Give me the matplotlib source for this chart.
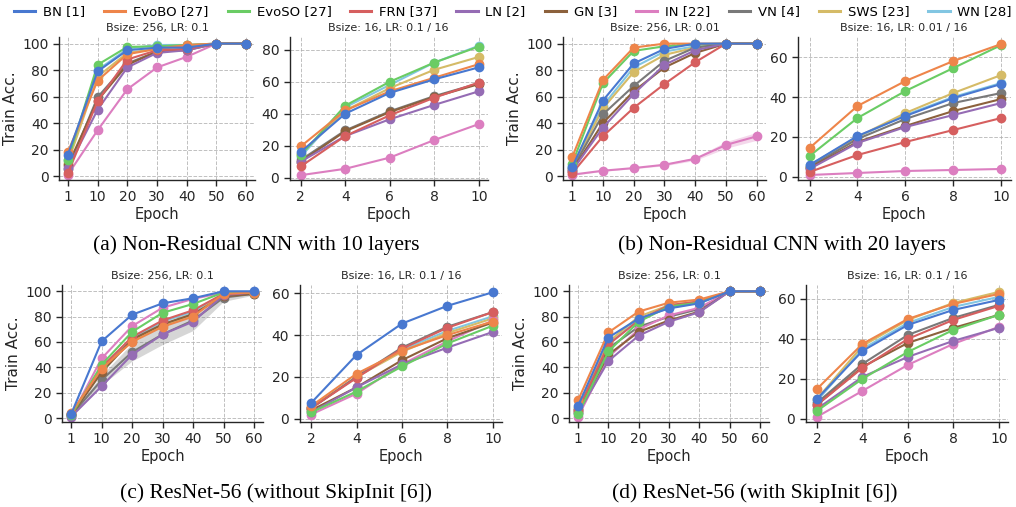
import numpy as np
import matplotlib
matplotlib.use('Agg')
import matplotlib.pyplot as plt


# Data

methods = ['BN [1]', 'EvoBO [27]', 'EvoSO [27]', 'FRN [37]', 'LN [2]',
           'GN [3]', 'IN [22]', 'VN [4]', 'SWS [23]', 'WN [28]']
colors = ['#4878d0', '#ee854a', '#6acc64', '#d65f5f', '#956cb4',
          '#8c613c', '#dc7ec0', '#797979', '#d5bb67', '#82c6e2']

long_epochs = ['1', '10', '20', '30', '40', '50', '60']
short_epochs = [2, 4, 6, 8, 10]

# (a) Non-residual CNN, 10 layers
a_long = [
    [16, 79, 95, 97, 97, 100, 100],
    [18, 72, 92, 96, 99, 100, 100],
    [12, 84, 97.5, 98, 99, 100, 100],
    [2, 56.5, 88, 95, 96, 100, 100],
    [6, 50, 82, 93, 95, 100, 100],
    [8, 57, 84, 94, 95, 100, 100],
    [1, 34.5, 65.5, 82, 90, 100, 100],
    [5, 59.5, 85, 94, 96, 100, 100],
    [10, 75, 93, 96, 98, 100, 100],
    [12, 80, 96, 99, 99, 100, 100],
]
a_short = [
    [16, 40, 53, 61.5, 69],
    [19.5, 42, 54, 62.5, 71],
    [14, 45, 60, 72, 82],
    [7, 26, 39, 50, 59.5],
    [10, 26, 36.5, 45.5, 54],
    [10, 29, 41, 50.5, 58.5],
    [1.5, 5.5, 12.5, 23.5, 33.5],
    [11, 29.5, 41.5, 51, 59],
    [15, 42, 56, 67.5, 75.5],
    [13, 44, 58, 72, 82.5],
]

# (b) Non-residual CNN, 20 layers
b_long = [
    [6.5, 57, 85, 96, 100, 100, 100],
    [14, 72.5, 97, 100, 100, 100, 100],
    [9, 70, 94.5, 98, 99.5, 100, 100],
    [2, 30, 51.5, 69.5, 86, 100, 100],
    [4, 36.5, 62, 84, 95, 100, 100],
    [4, 40, 64, 82, 93, 100, 100],
    [1, 4, 6, 8.5, 13, 23.5, 30],
    [5, 46.5, 68, 87, 97, 100, 100],
    [6, 51, 78.5, 91.5, 97, 100, 100],
    [7, 53, 82, 94, 98, 100, 100],
]
b_short = [
    [6, 20.5, 30.5, 39.5, 46.5],
    [14.5, 35.5, 48, 58, 66.5],
    [10.5, 29.5, 43, 54.5, 66],
    [2.5, 11, 17.5, 23.5, 29.5],
    [4, 17, 25, 31, 37],
    [4.5, 17.5, 25.5, 33, 39],
    [1, 2, 3, 3.5, 4],
    [5, 19, 29, 37, 42],
    [5, 20, 32, 42, 51],
    [6, 20, 31, 40, 47],
]

# (c) ResNet-56 without SkipInit
c_long = [
    [3, 60.5, 81.5, 90.5, 94.5, 100, 100],
    [4, 39, 60, 72, 80, 98, 99],
    [2, 42, 68, 83, 90, 99, 99],
    [3, 40, 64, 77, 85, 98, 99],
    [1, 25, 50, 66, 76, 97, 99],
    [2, 36, 62, 74, 82, 96, 98],
    [1, 47, 72.5, 87, 94, 99, 99],
    [2, 30, 52, 66, 77, 95, 98],
    [3, 38, 61, 73, 81, 98, 99],
    [3, 40, 63, 76, 84, 98, 99],
]
c_short = [
    [7.5, 30.5, 45.5, 54, 60.5],
    [6, 21.5, 32.5, 40, 46.5],
    [3, 13, 25, 36, 44.5],
    [5, 19.5, 33.5, 43.5, 51],
    [3, 15, 26, 34, 41.5],
    [4, 15, 28, 38.5, 46],
    [2, 12, 26, 37, 47],
    [5, 20, 34, 44, 51],
    [5, 20, 32, 41, 48],
    [5, 20, 33, 42, 49],
]

# (d) ResNet-56 with SkipInit
d_long = [
    [9.5, 63.5, 78.5, 86.5, 90.5, 100, 100],
    [14, 67.5, 84, 91, 93.5, 100, 100],
    [3, 52.5, 76, 88, 91, 100, 100],
    [6, 58, 77, 89, 92, 100, 100],
    [4, 45, 65, 76, 83.5, 100, 100],
    [5, 50, 68, 77, 84, 100, 100],
    [1, 48, 70, 81, 87, 100, 100],
    [6, 55, 72, 80, 86, 100, 100],
    [8, 60, 80, 89, 92, 100, 100],
    [7, 58, 78, 87, 91, 100, 100],
]
d_short = [
    [10, 34, 47, 54.5, 59.5],
    [15, 37.5, 50, 57.5, 62.5],
    [4, 20, 33.5, 44.5, 52],
    [7, 25.5, 40, 49.5, 56.5],
    [5, 21, 31, 39, 45.5],
    [7, 26, 38, 45.5, 52],
    [1, 14, 27, 37.5, 46],
    [8, 27.5, 42, 50.5, 57],
    [10, 36.5, 49.5, 58, 63.5],
    [9, 35, 48, 56, 61],
]

# spread (std) shown as shaded band for a few runs
b_long_in_std = [0.5, 0.5, 0.5, 0.8, 1.2, 2.5, 3]
c_long_vn_std = [1, 4, 7, 8, 8, 3, 1]

captions = ['(a) Non-Residual CNN with 10 layers',
            '(b) Non-Residual CNN with 20 layers',
            '(c) ResNet-56 (without SkipInit [6])',
            '(d) ResNet-56 (with SkipInit [6])']


# Functions

def style_axes(ax):
    for side in ['top', 'right']:
        ax.spines[side].set_visible(False)
    for side in ['left', 'bottom']:
        ax.spines[side].set_color('#262626')
        ax.spines[side].set_linewidth(1.0)
    ax.grid(True, linestyle='--', color='#b0b0b0', linewidth=0.7, alpha=0.8)
    ax.set_axisbelow(True)
    ax.tick_params(labelsize=10, colors='#262626', length=4, width=1)
    ax.set_xlabel('Epoch', fontsize=10.5, color='#262626', labelpad=2)


def plot_long(ax, data, title, std=None, ylabel=True):
    xs = np.arange(len(long_epochs))
    for i in reversed(range(len(methods))):
        ax.plot(xs, data[i], 'o-', color=colors[i], linewidth=1.5, markersize=6)
        if std is not None and i in std:
            y = np.array(data[i])
            s = np.array(std[i])
            ax.fill_between(xs, y - s, y + s, color=colors[i], alpha=0.3, linewidth=0)
    ax.set_xticks(xs)
    ax.set_xticklabels(long_epochs)
    ax.set_xlim(-0.3, len(long_epochs) - 0.7)
    ax.set_ylim(-3, 105)
    ax.set_yticks([0, 20, 40, 60, 80, 100])
    ax.set_title(title, fontsize=8, color='#262626', pad=4)
    if ylabel:
        ax.set_ylabel('Train Acc.', fontsize=11, color='#262626', labelpad=3)
    style_axes(ax)


def plot_short(ax, data, title, ytop, yticks):
    for i in reversed(range(len(methods))):
        ax.plot(short_epochs, data[i], 'o-', color=colors[i], linewidth=1.5, markersize=6)
    ax.set_xticks(short_epochs)
    ax.set_xlim(1.5, 10.4)
    ax.set_ylim(-1.5, ytop)
    ax.set_yticks(yticks)
    ax.set_title(title, fontsize=8, color='#262626', pad=4)
    style_axes(ax)


def main():
    fig = plt.figure(figsize=(10.16, 5.07), dpi=100)

    r1, h1 = 0.645, 0.282
    r2, h2 = 0.168, 0.270
    ax_a1 = fig.add_axes([0.058, r1, 0.193, h1])
    ax_a2 = fig.add_axes([0.285, r1, 0.195, h1])
    ax_b1 = fig.add_axes([0.554, r1, 0.200, h1])
    ax_b2 = fig.add_axes([0.785, r1, 0.210, h1])
    ax_c1 = fig.add_axes([0.061, r2, 0.198, h2])
    ax_c2 = fig.add_axes([0.295, r2, 0.199, h2])
    ax_d1 = fig.add_axes([0.560, r2, 0.197, h2])
    ax_d2 = fig.add_axes([0.793, r2, 0.199, h2])

    plot_long(ax_a1, a_long, 'Bsize: 256, LR: 0.1')
    plot_short(ax_a2, a_short, 'Bsize: 16, LR: 0.1 / 16', 88, [0, 20, 40, 60, 80])
    plot_long(ax_b1, b_long, 'Bsize: 256, LR: 0.01', std={6: b_long_in_std})
    plot_short(ax_b2, b_short, 'Bsize: 16, LR: 0.01 / 16', 70, [0, 20, 40, 60])
    plot_long(ax_c1, c_long, 'Bsize: 256, LR: 0.1', std={7: c_long_vn_std})
    plot_short(ax_c2, c_short, 'Bsize: 16, LR: 0.1 / 16', 64, [0, 20, 40, 60])
    plot_long(ax_d1, d_long, 'Bsize: 256, LR: 0.1')
    plot_short(ax_d2, d_short, 'Bsize: 16, LR: 0.1 / 16', 67, [0, 20, 40, 60])

    handles = [plt.Line2D([], [], color=c, linewidth=2.2) for c in colors]
    fig.legend(handles, methods, loc='center', bbox_to_anchor=(0.014, 0.952, 0.982, 0.05),
               mode='expand', ncol=10, frameon=False, fontsize=9.5, handlelength=1.6,
               columnspacing=0.8, handletextpad=0.6, borderaxespad=0.0, borderpad=0.0)

    cap_font = dict(family='Liberation Serif', fontsize=15.5, ha='center', va='center')
    fig.text(0.252, 0.517, captions[0], **cap_font)
    fig.text(0.770, 0.517, captions[1], **cap_font)
    fig.text(0.272, 0.028, captions[2], **cap_font)
    fig.text(0.743, 0.028, captions[3], **cap_font)

    fig.savefig('out.png', dpi=100)


if __name__ == "__main__":
    main()
